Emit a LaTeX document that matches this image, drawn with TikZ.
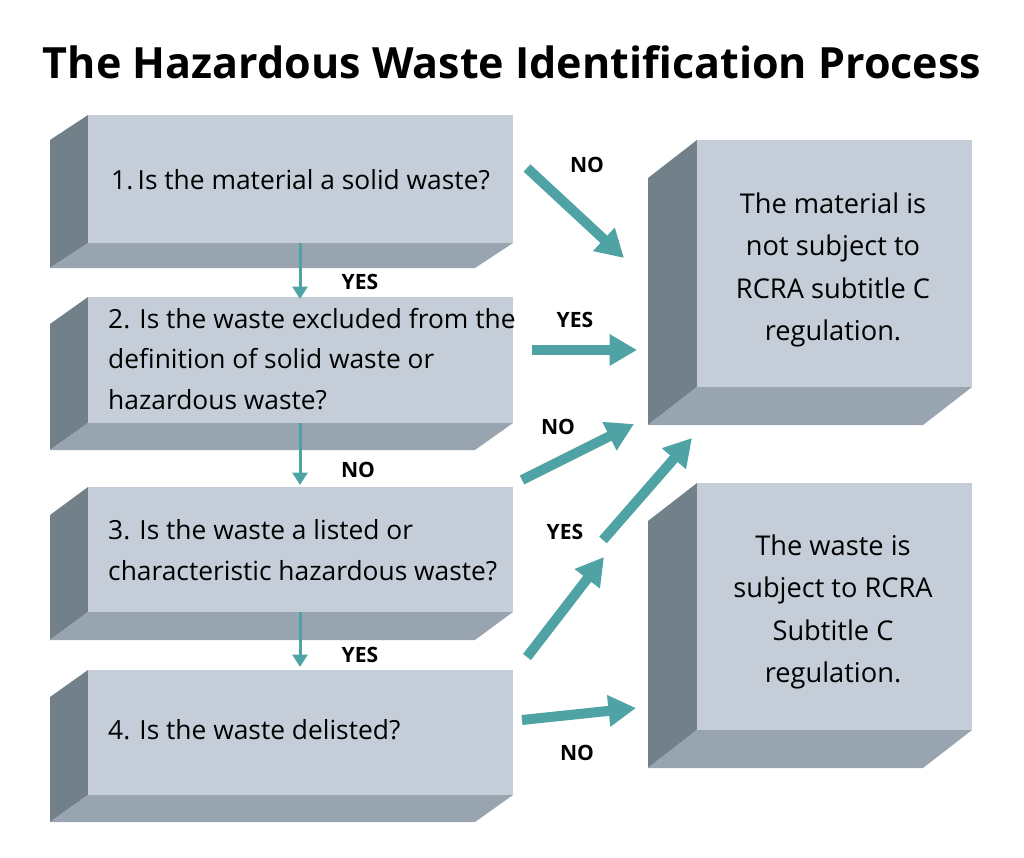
\documentclass[tikz,border=0pt]{standalone}
\usepackage{fontspec}
\setmainfont{Open Sans}
\usetikzlibrary{arrows.meta}
\definecolor{frontc}{HTML}{C5CED8}
\definecolor{sidec}{HTML}{72808A}
\definecolor{basec}{HTML}{98A4AF}
\definecolor{tealc}{HTML}{4FA3A4}
% 3D slab: front x1,y1,x2,y2 and depth dx,dy
\newcommand{\slab}[6]{%
\fill[sidec] (#1,#2) -- (#1+#5,#2+#6) -- (#1+#5,#4+#6) -- (#1,#4) -- cycle;
\fill[basec] (#1,#4) -- (#3,#4) -- (#3+#5,#4+#6) -- (#1+#5,#4+#6) -- cycle;
\fill[frontc] (#1,#2) rectangle (#3,#4);}
\tikzset{
  boxtext/.style={font=\fontsize{15}{23}\selectfont, align=left, anchor=west},
  restext/.style={font=\fontsize{15.5}{24}\selectfont, align=center},
  lbl/.style={font=\bfseries\fontsize{12}{14}\selectfont},
  big/.style={tealc, line width=0.2cm, -{Triangle[length=0.55cm,width=0.6cm]}},
  thin/.style={tealc, line width=0.06cm, -{Triangle[length=0.25cm,width=0.3cm]}}
}
\begin{document}
\begin{tikzpicture}[x=0.02cm,y=-0.02cm]
\useasboundingbox (0,0) rectangle (1024,858);

%title
\node[font=\bfseries\fontsize{24.5}{28}\selectfont] (title) at (512,62) {The Hazardous Waste Identification Process};

%question slabs
\slab{88}{115}{513}{243}{-38}{25}
\slab{88}{297}{513}{423}{-38}{27}
\slab{88}{487}{513}{612}{-38}{28}
\slab{88}{670}{513}{795}{-38}{27}
%result slabs
\slab{697}{140}{972}{387}{-49}{38}
\slab{697}{483}{972}{730}{-49}{38}

\node[boxtext] (q1) at (105,180) {1.\,Is the material a solid waste?};
\node[boxtext] (q2) at (102,359) {2. Is the waste excluded from the\\definition of solid waste or\\hazardous waste?};
\node[boxtext] (q3) at (102,550) {3. Is the waste a listed or\\characteristic hazardous waste?};
\node[boxtext] (q4) at (102,730) {4. Is the waste delisted?};
\node[restext] (r1) at (833,270) {The material is\\not subject to\\RCRA subtitle C\\regulation.};
\node[restext] (r2) at (833,612) {The waste is\\subject to RCRA\\Subtitle C\\regulation.};

%arrow ends
\coordinate (d1a) at (300,243); \coordinate (d1b) at (300,299);
\coordinate (d2a) at (300,423); \coordinate (d2b) at (300,485);
\coordinate (d3a) at (300,612); \coordinate (d3b) at (300,667);
\coordinate (a1a) at (527,168); \coordinate (a1b) at (624,258);
\coordinate (a2a) at (532,350); \coordinate (a2b) at (637,350);
\coordinate (a3a) at (522,480); \coordinate (a3b) at (634,424);
\coordinate (a4a) at (603,540); \coordinate (a4b) at (692,438);
\coordinate (a5a) at (527,657); \coordinate (a5b) at (604,557);
\coordinate (a6a) at (522,720); \coordinate (a6b) at (636,708);

\draw[thin] (d1a) -- (d1b);
\draw[thin] (d2a) -- (d2b);
\draw[thin] (d3a) -- (d3b);
\draw[big] (a1a) -- (a1b);
\draw[big] (a2a) -- (a2b);
\draw[big] (a3a) -- (a3b);
\draw[big] (a4a) -- (a4b);
\draw[big] (a5a) -- (a5b);
\draw[big] (a6a) -- (a6b);

\node[lbl] (l1) at (360,282) {YES};
\node[lbl] (l2) at (358,470) {NO};
\node[lbl] (l3) at (360,655) {YES};
\node[lbl] (l4) at (587,165) {NO};
\node[lbl] (l5) at (575,320) {YES};
\node[lbl] (l6) at (558,427) {NO};
\node[lbl] (l7) at (565,532) {YES};
\node[lbl] (l8) at (577,753) {NO};
\end{tikzpicture}
\end{document}
